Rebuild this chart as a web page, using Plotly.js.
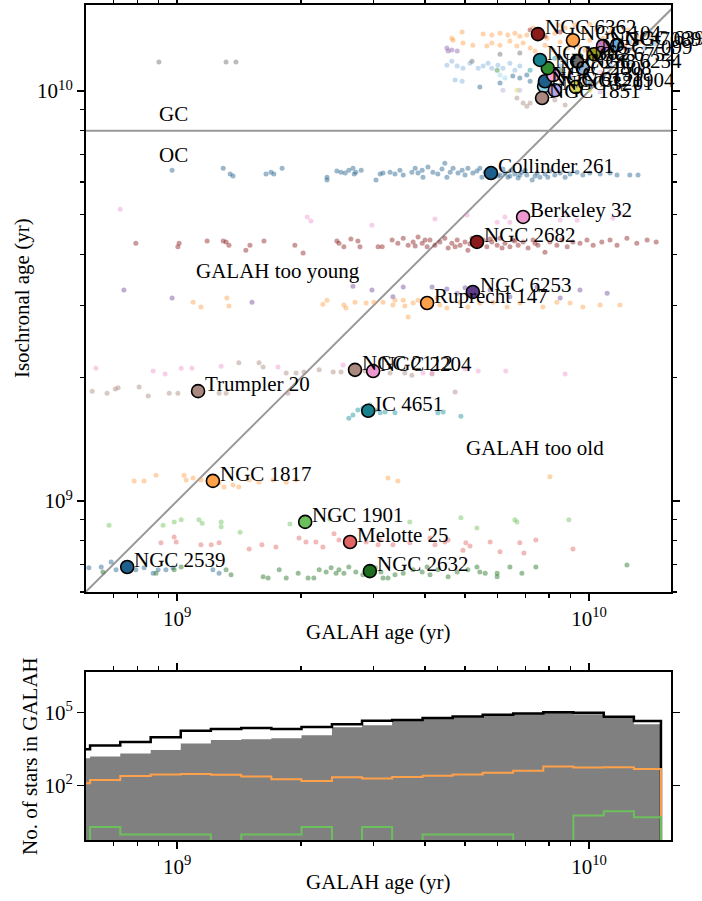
<!DOCTYPE html>
<html><head><meta charset="utf-8">
<script src="https://cdn.plot.ly/plotly-3.0.1.min.js"></script>
<style>html,body{margin:0;padding:0;background:#fff}#chart{width:702px;height:901px}</style>
</head><body><div id="chart"></div>
<script>
// ---------- DATA (ages as log10 of age in yr) ----------
// Open-cluster member stars: GALAH age and isochronal age
const col261Galah = [8.988,9.112,9.129,9.136,9.216,9.228,9.235,9.255,9.364,9.364,9.388,9.398,9.408,9.417,9.427,9.430,9.434,9.447,9.483,9.493,
9.500,9.517,9.529,9.541,9.549,9.570,9.578,9.585,9.595,9.597,9.609,9.621,9.633,9.643,9.650,9.655,9.663,9.670,9.682,9.692,
9.699,9.706,9.718,9.728,9.735,9.740,9.748,9.752,9.772,9.784,9.796,9.803,9.813,9.820,9.828,9.837,9.849,9.862,9.874,9.881,
9.893,9.905,9.917,9.930,9.942,9.954,9.971,9.985,10.002,10.027,10.051,10.068,10.099,10.119,9.755,9.779,9.791,9.808,9.832,9.845,9.869,9.900];
const col261Iso = [9.807,9.812,9.798,9.793,9.798,9.802,9.798,9.812,9.790,9.783,9.805,9.802,9.800,9.807,9.812,9.798,9.802,9.807,9.783,9.798,
9.800,9.802,9.798,9.807,9.795,9.802,9.812,9.800,9.807,9.790,9.815,9.802,9.798,9.810,9.824,9.790,9.802,9.812,9.800,9.807,
9.795,9.812,9.800,9.805,9.812,9.790,9.802,9.798,9.807,9.795,9.800,9.790,9.807,9.798,9.788,9.802,9.795,9.783,9.800,9.790,
9.798,9.805,9.795,9.800,9.790,9.798,9.802,9.795,9.800,9.798,9.800,9.795,9.795,9.795,9.807,9.793,9.810,9.793,9.795,9.807,9.793,9.790];

const n2682Galah = [8.900,9.002,9.005,9.073,9.112,9.119,9.126,9.167,9.177,9.211,9.286,9.306,9.388,9.393,9.405,9.422,9.439,9.444,9.488,
9.498,9.522,9.536,9.549,9.561,9.573,9.585,9.595,9.607,9.614,9.626,9.638,9.650,9.658,9.667,9.680,9.687,9.699,9.706,9.716,
9.735,9.743,9.752,9.764,9.777,9.784,9.796,9.808,9.815,9.828,9.840,9.852,9.864,9.876,9.893,9.905,9.922,9.934,9.947,9.961,
9.978,9.995,10.010,10.031,10.051,10.068,10.092,10.116,10.141,10.163,9.578,9.602,9.675,9.711,9.760,9.789,9.820,9.869];
const n2682Iso = [9.629,9.620,9.629,9.634,9.634,9.632,9.624,9.612,9.624,9.634,9.624,9.605,9.634,9.629,9.620,9.639,9.634,9.620,9.620,
9.620,9.637,9.629,9.641,9.624,9.632,9.644,9.629,9.620,9.637,9.624,9.632,9.641,9.617,9.629,9.637,9.624,9.632,9.612,9.641,
9.624,9.637,9.620,9.632,9.624,9.641,9.629,9.620,9.637,9.624,9.632,9.617,9.637,9.624,9.607,9.632,9.624,9.637,9.620,9.632,
9.629,9.637,9.624,9.632,9.637,9.624,9.641,9.629,9.637,9.632,9.622,9.637,9.620,9.627,9.639,9.617,9.634,9.629];

const be32Galah = [8.862,9.316,9.325,9.473,9.626,9.704,9.777,9.796,9.808,9.930,9.947,9.971,10.058,10.075];
const be32Iso = [9.712,9.693,9.683,9.673,9.688,9.698,9.680,9.693,9.680,9.685,9.698,9.685,9.690,9.702];

const n6253Galah = [8.871,8.988,9.182,9.427,9.473,9.524,9.549,9.619,9.655,9.680,9.699,9.760,9.808,9.874,9.930,9.978,10.044];
const n6253Iso = [9.515,9.495,9.485,9.524,9.515,9.498,9.522,9.522,9.517,9.507,9.520,9.515,9.498,9.522,9.495,9.515,9.507];

const ru147Galah = [9.039,9.058,9.121,9.126,9.354,9.364,9.405,9.410,9.432,9.459,9.478,9.500,9.524,9.549,9.561,9.573,9.638,9.655,
9.687,9.706,9.735,9.767,9.801,9.832,9.888,9.922,9.954,9.985,10.027,10.075,9.529,9.553,9.585,9.602,9.619,9.631];
const ru147Iso = [9.485,9.473,9.495,9.476,9.480,9.490,9.478,9.471,9.485,9.483,9.485,9.485,9.478,9.490,9.449,9.483,9.478,9.471,
9.485,9.473,9.483,9.485,9.473,9.483,9.473,9.485,9.483,9.473,9.478,9.478,9.490,9.476,9.490,9.471,9.485,9.495];

const n2112Galah = [9.150,9.199,9.209,9.265,9.289,9.308,9.345,9.379,9.398,9.517,9.553,9.570,9.619,9.420,9.456];
const n2112Iso = [9.337,9.337,9.327,9.312,9.312,9.315,9.320,9.315,9.315,9.312,9.312,9.307,9.310,9.324,9.317];

const n2204Galah = [8.803,8.942,8.971,9.010,9.036,9.107,9.245,9.403,9.597,9.619,9.699,9.731,9.798,9.942];
const n2204Iso = [9.324,9.317,9.310,9.324,9.324,9.329,9.327,9.332,9.312,9.312,9.322,9.317,9.317,9.310];

const tr20Galah = [8.794,8.830,8.850,8.857,8.908,8.930,8.981,9.002,9.102,9.119,9.269,9.675];
const tr20Iso = [9.268,9.263,9.273,9.276,9.278,9.256,9.263,9.263,9.263,9.263,9.263,9.266];

const ic4651Galah = [9.417,9.427,9.439,9.451,9.505,9.529,9.633,9.646,9.689,9.468,9.481,9.493];
const ic4651Iso = [9.202,9.210,9.222,9.227,9.217,9.215,9.215,9.217,9.207,9.234,9.222,9.215];

const n1817Galah = [8.896,8.920,8.949,9.017,9.022,9.039,9.058,9.102,9.114,9.136,9.150,9.175,9.199,9.233,9.265,9.289,9.512,9.536,9.905];
const n1817Iso = [9.049,9.049,9.063,9.063,9.051,9.056,9.051,9.044,9.034,9.039,9.034,9.051,9.046,9.051,9.046,9.051,9.056,9.049,9.059];

const n1901Galah = [8.835,8.966,8.993,9.010,9.053,9.061,9.107,9.107,9.153,9.565,9.689,9.728,9.820,9.825,9.951,9.371,9.274];
const n1901Iso = [8.941,8.941,8.949,8.954,8.954,8.946,8.949,8.937,8.924,8.949,8.959,8.934,8.954,8.949,8.954,8.956,8.944];

const mel25Galah = [8.961,8.993,8.998,9.058,9.083,9.102,9.175,9.206,9.240,9.296,9.313,9.337,9.354,9.381,9.393,9.425,9.459,
9.488,9.493,9.524,9.565,9.614,9.626,9.650,9.658,9.694,9.701,9.711,9.760,9.784,9.832,9.842,9.871,9.961];
const mel25Iso = [8.898,8.912,8.900,8.893,8.893,8.898,8.883,8.893,8.888,8.910,8.900,8.900,8.888,8.920,8.905,8.905,8.900,
8.893,8.905,8.893,8.898,8.910,8.893,8.900,8.905,8.880,8.898,8.890,8.900,8.876,8.898,8.873,8.905,8.883];

const n2632Galah = [8.820,8.949,8.993,9.010,9.119,9.131,9.209,9.221,9.248,9.265,9.294,9.318,9.332,9.345,9.362,9.374,9.386,9.393,
9.405,9.417,9.434,9.451,9.495,9.500,9.512,9.549,9.573,9.595,9.607,9.614,9.633,9.658,9.680,9.706,9.728,9.735,9.748,9.777,
9.777,9.808,9.837,9.871,10.092,9.481,9.529];
const n2632Iso = [8.827,8.824,8.832,8.839,8.832,8.820,8.815,8.812,8.832,8.812,8.824,8.812,8.812,8.832,8.827,8.837,8.824,8.832,
8.824,8.839,8.827,8.820,8.827,8.812,8.812,8.824,8.832,8.827,8.839,8.820,8.832,8.815,8.827,8.832,8.839,8.827,8.824,8.824,
8.815,8.839,8.824,8.839,8.844,8.837,8.820];

const n2539Galah = [8.786,8.816,8.840,8.852,8.900,8.920,8.942,8.954,8.973,8.990,9.087,9.102];
const n2539Iso = [8.837,8.839,8.851,8.832,8.832,8.837,8.824,8.832,8.832,8.837,8.832,8.824];

// Globular-cluster member stars
const n104Galah = [9.692,9.743,9.764,9.784,9.803,9.820,9.832,9.849,9.670,9.694,9.718,9.752,9.764,9.784,9.808,9.825,9.840,9.857,
9.869,9.667,9.881,9.898,9.917,9.930,9.942,9.954,9.973,9.985,10.002,10.019,10.034,10.051,10.075,10.095,10.116,9.893,9.913,
9.949,9.990,10.027,10.056,10.087,10.124,10.148,9.864,9.925,9.966,10.002];
const n104Iso = [10.144,10.139,10.137,10.141,10.137,10.141,10.134,10.137,10.124,10.117,10.112,10.110,10.117,10.112,10.122,10.110,
10.117,10.105,10.098,10.129,10.149,10.129,10.141,10.120,10.154,10.134,10.112,10.144,10.124,10.149,10.129,10.141,10.124,
10.149,10.134,10.112,10.100,10.105,10.100,10.107,10.154,10.112,10.120,10.137,10.154,10.161,10.161,10.163];
const n6254Galah = [9.655,9.667,9.680,9.694,9.711,9.731,9.743,9.755,9.764,9.779,9.791,9.808,9.820,9.832,9.675,9.692,10.027,10.051,10.075,10.099,10.124,10.087,9.966,9.930];
const n6254Iso = [10.063,10.073,10.061,10.056,10.068,10.056,10.061,10.068,10.056,10.063,10.056,10.068,10.051,10.061,10.027,10.024,10.076,10.063,10.080,10.071,10.056,10.039,10.071,10.061];
const n7089Galah = [9.655,9.658,9.667,9.680,10.027,10.051,10.087,10.002];
const n7089Iso = [10.105,10.098,10.100,10.098,10.124,10.100,10.105,10.095];
const n6397Galah = [10.099,10.136,10.160,10.039];
const n6397Iso = [10.120,10.105,10.115,10.100];
const n6752Galah = [9.784,9.832,9.716,8.956,9.119,9.143,9.930,10.027,10.075];
const n6752Iso = [10.090,10.093,10.073,10.071,10.071,10.071,10.080,10.071,10.076];
const n362Galah = [9.857,9.893,9.917,9.942];
const n362Iso = [10.051,10.063,10.080,10.071];
const n288Galah = [9.777,9.930,9.966];
const n288Iso = [10.051,10.051,10.061];
const n5139Galah = [9.735,9.784,9.815,9.832,9.849,9.857,9.905,9.930,9.954,10.002];
const n5139Iso = [10.010,10.020,10.037,10.032,10.039,10.024,10.027,10.015,10.032,10.022];
const n6121Galah = [9.784,9.796,9.930,9.978];
const n6121Iso = [10.039,10.032,10.007,10.015];
const n2808Galah = [9.930,9.954,10.002,10.027];
const n2808Iso = [10.051,10.039,10.056,10.046];
const n3201Galah = [9.791,9.832,10.124,10.148,10.027];
const n3201Iso = [10.002,10.002,10.007,10.022,9.998];
const n1904Galah = [9.825,10.002];
const n1904Iso = [10.002,10.002];
const n1851Galah = [9.825,9.840,9.857,9.849,9.917,9.942];
const n1851Iso = [9.983,9.971,9.971,9.963,9.978,9.966];
const n7099Galah = [9.978,10.051];
const n7099Iso = [10.088,10.095];
const n6362Galah = [9.857,9.893,9.930];
const n6362Iso = [10.149,10.134,10.144];

// Cluster medians (log10 yr)
const clusterNames = ['Collinder 261','Berkeley 32','NGC 2682','NGC 6253','Ruprecht 147','NGC 2112','NGC 2204','Trumpler 20',
  'IC 4651','NGC 1817','NGC 1901','Melotte 25','NGC 2539','NGC 2632',
  'NGC 6254','NGC 6121','NGC 5139','NGC 1851','NGC 3201','NGC 2808','NGC 288','NGC 362','NGC 6752','NGC 1904',
  'NGC 7099','NGC 7089','NGC 6397','NGC 104','NGC 6362'];
const clusterGalahAge = [9.762,9.840,9.728,9.718,9.607,9.432,9.476,9.051,9.464,9.087,9.311,9.420,8.879,9.468,
  9.985,9.891,9.893,9.886,9.917,9.913,9.900,9.881,9.971,9.968,10.012,10.034,10.068,9.961,9.876];
const clusterIsoAge = [9.800,9.693,9.632,9.510,9.483,9.320,9.317,9.268,9.220,9.049,8.949,8.900,8.839,8.829,
  10.056,10.012,10.024,9.983,10.002,10.039,10.056,10.076,10.073,10.010,10.090,10.110,10.112,10.124,10.139];

// Histogram (GALAH age bins in Gyr, counts)
const histEdgesGyr = [0.520,0.615,0.728,0.863,1.021,1.208,1.432,1.694,2.005,2.377,2.812,3.327,3.945,4.667,5.521,6.546,7.745,9.162,10.86,12.85,14.95];
const histAll = [3090,4470,6170,9550,17800,20900,22900,20900,25100,33100,45700,49000,58900,69200,81300,91200,102000,97700,66100,44700];
const histSubset = [1320,1550,2090,2880,5370,7410,7940,8710,11700,24500,30200,44700,53700,63100,72400,85100,97700,85100,58900,33100];
const histOrange = [126,170,251,288,302,282,234,182,155,219,195,224,257,288,339,407,603,550,562,479];
const histGreen = [0,2,1,1,1,0,1,1,2,0,2,0,1,1,1,0,0,6,9,5];

// Reference lines / region labels
const gcOcBoundary = 8.0e9;
const regionText = ['GC','OC','GALAH too young','GALAH too old'];
const regionX = [9.8e8, 9.8e8, 1.76e9, 7.4e9];
const regionY = [8.8e9, 7.0e9, 3.64e9, 1.35e9];

// ---------- STYLE ----------
const FONT = 'Liberation Serif, Times New Roman, serif';
const FS = 21;
const members = [
  [col261Galah,col261Iso,'#1f5f8b'],[be32Galah,be32Iso,'#ec97cf'],[n2682Galah,n2682Iso,'#8c1c1c'],
  [n6253Galah,n6253Iso,'#6a4a99'],[ru147Galah,ru147Iso,'#ffa04a'],[n2112Galah,n2112Iso,'#a8887f'],
  [n2204Galah,n2204Iso,'#ec97cf'],[tr20Galah,tr20Iso,'#a8887f'],[ic4651Galah,ic4651Iso,'#17909c'],
  [n1817Galah,n1817Iso,'#ffa04a'],[n1901Galah,n1901Iso,'#6cc05c'],[mel25Galah,mel25Iso,'#e36464'],
  [n2539Galah,n2539Iso,'#1f5f8b'],[n2632Galah,n2632Iso,'#1f6e1f'],
  [n6254Galah,n6254Iso,'#7fb0dc'],[n6121Galah,n6121Iso,'#8fd6e6'],[n5139Galah,n5139Iso,'#1f5f8b'],
  [n1851Galah,n1851Iso,'#a8887f'],[n3201Galah,n3201Iso,'#b9a3e3'],[n2808Galah,n2808Iso,'#f2a6d8'],
  [n288Galah,n288Iso,'#2e8b2e'],[n362Galah,n362Iso,'#17909c'],[n6752Galah,n6752Iso,'#6b6b6b'],
  [n1904Galah,n1904Iso,'#d6d65c'],[n7099Galah,n7099Iso,'#9c9c1e'],[n7089Galah,n7089Iso,'#8a62ad'],
  [n6397Galah,n6397Iso,'#6aaee0'],[n104Galah,n104Iso,'#ffa04a'],[n6362Galah,n6362Iso,'#8c1c1c']
];
const clusterColors = ['#1f5f8b','#ec97cf','#8c1c1c','#5e3c8a','#ffa04a','#a8887f','#ec97cf','#a8887f',
  '#17808c','#ffa04a','#6cc05c','#e36464','#1f5f8b','#1f6e1f',
  '#93b6dd','#8fd6e6','#1f5f8b','#a8887f','#b9a3e3','#f2a6d8','#2e8b2e','#17808c','#6b6b6b','#d6d65c',
  '#9c9c1e','#c07cc0','#6aaee0','#ffa04a','#8c1c1c'];

const p10 = a => a.map(v => Math.pow(10, v));
const traces = [];

// reference lines (top panel)
const lineSpan = [4e8, 3e10];
traces.push({x: lineSpan, y: lineSpan, mode:'lines', line:{color:'#999999', width:2}, hoverinfo:'skip', showlegend:false, xaxis:'x', yaxis:'y'});
traces.push({x: lineSpan, y: [gcOcBoundary, gcOcBoundary], mode:'lines', line:{color:'#999999', width:2}, hoverinfo:'skip', showlegend:false, xaxis:'x', yaxis:'y'});

// member stars
members.forEach(m => {
  traces.push({x: p10(m[0]), y: p10(m[1]), mode:'markers', marker:{size:5, color:m[2], opacity:0.45, line:{width:0}},
    showlegend:false, hoverinfo:'skip', xaxis:'x', yaxis:'y'});
});
// cluster markers
clusterNames.forEach((n, i) => {
  traces.push({x:[Math.pow(10, clusterGalahAge[i])], y:[Math.pow(10, clusterIsoAge[i])], mode:'markers',
    marker:{size:13, color:clusterColors[i], line:{color:'black', width:1.6}}, name:n, showlegend:false,
    xaxis:'x', yaxis:'y'});
});

// histograms (bottom panel)
const edges = histEdgesGyr.map(v => v * 1e9);
const FLOOR = 0.05;
function stepXY(counts) {
  const xs = [edges[0]], ys = [FLOOR];
  counts.forEach((c, i) => { xs.push(edges[i]); ys.push(c > 0 ? c : FLOOR); });
  xs.push(edges[edges.length - 1]); ys.push(counts[counts.length - 1] > 0 ? counts[counts.length - 1] : FLOOR);
  xs.push(edges[edges.length - 1]); ys.push(FLOOR);
  return [xs, ys];
}
let s = stepXY(histSubset);
traces.push({x:s[0], y:s[1], mode:'lines', line:{shape:'hv', width:0, color:'#808080'}, fill:'toself', fillcolor:'#808080',
  showlegend:false, hoverinfo:'skip', xaxis:'x2', yaxis:'y2'});
s = stepXY(histAll);
traces.push({x:s[0], y:s[1], mode:'lines', line:{shape:'hv', width:2.5, color:'black'}, showlegend:false, xaxis:'x2', yaxis:'y2'});
s = stepXY(histOrange);
traces.push({x:s[0], y:s[1], mode:'lines', line:{shape:'hv', width:2, color:'#ffa04a'}, showlegend:false, xaxis:'x2', yaxis:'y2'});
s = stepXY(histGreen);
traces.push({x:s[0], y:s[1], mode:'lines', line:{shape:'hv', width:2, color:'#6cc05c'}, showlegend:false, xaxis:'x2', yaxis:'y2'});

// annotations
const tfont = {family:FONT, size:FS, color:'black'};
const annotations = [];
clusterNames.forEach((n, i) => {
  annotations.push({x: clusterGalahAge[i], y: clusterIsoAge[i], xref:'x', yref:'y', text:n, showarrow:false,
    xanchor:'left', yanchor:'middle', xshift:5, yshift:7, font:tfont});
});
regionText.forEach((t, i) => {
  annotations.push({x: Math.log10(regionX[i]), y: Math.log10(regionY[i]), xref:'x', yref:'y', text:t, showarrow:false,
    xanchor:'center', yanchor:'middle', font:tfont});
});
// axis titles
annotations.push({xref:'paper', yref:'paper', x:0.5, y:0.249, text:'GALAH age (yr)', showarrow:false, xanchor:'center', yanchor:'middle', font:tfont});
annotations.push({xref:'paper', yref:'paper', x:0.5, y:-0.0503, text:'GALAH age (yr)', showarrow:false, xanchor:'center', yanchor:'middle', font:tfont});
annotations.push({xref:'paper', yref:'paper', x:-0.1094, y:0.649, text:'Isochronal age (yr)', textangle:-90, showarrow:false, xanchor:'center', yanchor:'middle', font:tfont});
annotations.push({xref:'paper', yref:'paper', x:-0.0957, y:0.1006, text:'No. of stars in GALAH', textangle:-90, showarrow:false, xanchor:'center', yanchor:'middle', font:tfont});

const minorAge = [6e8,7e8,8e8,9e8,2e9,3e9,4e9,5e9,6e9,7e9,8e9,9e9];
const axisCommon = {type:'log', showline:true, linecolor:'black', linewidth:2, mirror:'ticks', ticks:'outside',
  ticklen:7, tickwidth:1.5, tickcolor:'black', showgrid:false, zeroline:false,
  tickfont:{family:FONT, size:FS, color:'black'}};
const ageAxis = Object.assign({}, axisCommon, {range:[8.779, 10.199], tickmode:'array', tickvals:[1e9, 1e10],
  ticktext:['10<sup>9</sup>','10<sup>10</sup>'],
  minor:{ticks:'outside', ticklen:4, tickwidth:1.2, tickcolor:'black', tickmode:'array', tickvals:minorAge, showgrid:false}});

const layout = {
  width:702, height:901, margin:{l:86, r:31, t:5, b:61}, paper_bgcolor:'white', plot_bgcolor:'white',
  font:{family:FONT, size:FS, color:'black'}, showlegend:false,
  xaxis: Object.assign({}, ageAxis, {anchor:'y', domain:[0,1]}),
  yaxis: Object.assign({}, axisCommon, {anchor:'x', domain:[0.297, 1], range:[8.778, 10.21], tickmode:'array', tickvals:[1e9, 1e10],
    ticktext:['10<sup>9</sup>','10<sup>10</sup>'],
    minor:{ticks:'outside', ticklen:4, tickwidth:1.2, tickcolor:'black', tickmode:'array', tickvals:minorAge, showgrid:false}}),
  xaxis2: Object.assign({}, ageAxis, {anchor:'y2', domain:[0,1]}),
  yaxis2: Object.assign({}, axisCommon, {anchor:'x2', domain:[0, 0.2012], range:[-0.23, 6.66], tickmode:'array', tickvals:[1e2, 1e5],
    ticktext:['10<sup>2</sup>','10<sup>5</sup>']}),
  annotations: annotations
};

Plotly.newPlot('chart', traces, layout, {displayModeBar:false, staticPlot:true});
</script></body></html>
